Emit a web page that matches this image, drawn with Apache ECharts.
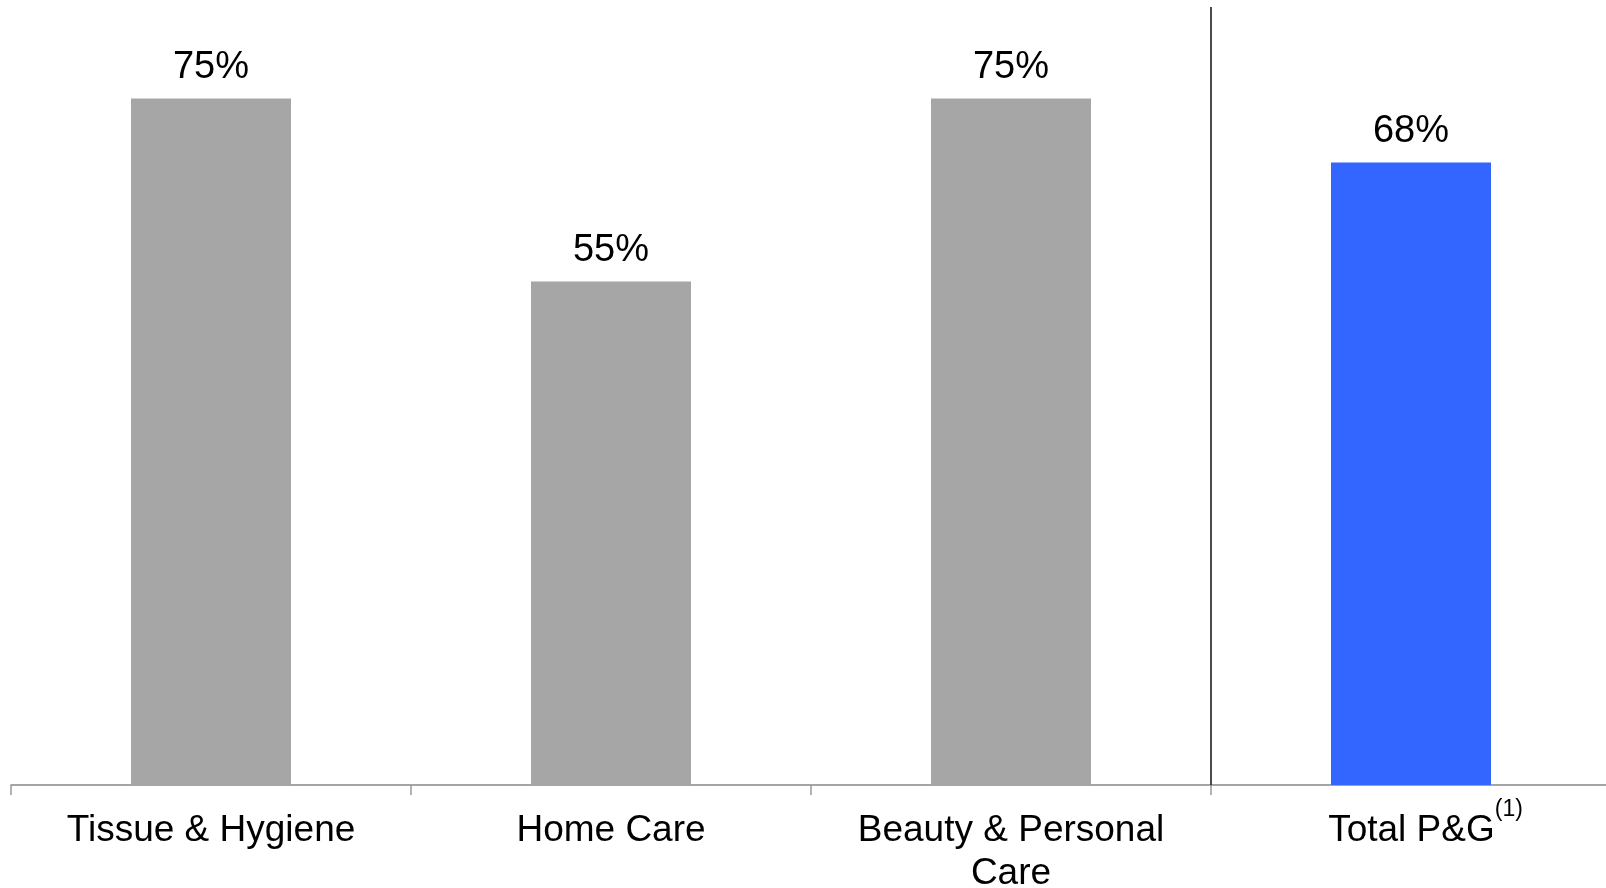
<!DOCTYPE html>
<html>
<head>
<meta charset="utf-8">
<script src="https://cdn.jsdelivr.net/npm/echarts@6/dist/echarts.min.js"></script>
<style>
html,body{margin:0;padding:0;background:#fff;}
#chart{width:1606px;height:888px;}
</style>
</head>
<body>
<div id="chart"></div>
<script>
const categories = ['Tissue & Hygiene', 'Home Care', 'Beauty & Personal\nCare', 'Total P&G'];
const values = [75, 55, 75, 68];
const barColors = ['#a6a6a6', '#a6a6a6', '#a6a6a6', '#3366ff'];
const footnote = '(1)';
// separator drawn at the boundary before the 4th category (band index 3), spanning 0..85
const separatorX = [3, 3];
const separatorY = [0, 85];

const FONT = "'Liberation Sans', Arial, sans-serif";
const chart = echarts.init(document.getElementById('chart'));

function catLabel(v) {
  const lines = v.split('\n');
  if (v === 'Total P&G') return '{pad|}{n|' + v + '}{sup|' + footnote + '}';
  return lines.map((l, i) => (i === 0 ? '{n|' : '{c|') + l + '}').join('\n');
}

chart.setOption({
  animation: false,
  backgroundColor: '#ffffff',
  grid: { left: 11, right: -5, top: 7, bottom: 103, containLabel: false, outerBoundsMode: 'none' },
  xAxis: [{
    type: 'category',
    data: categories,
    boundaryGap: true,
    axisLine: { show: true, lineStyle: { color: '#888888', width: 1.5 } },
    axisTick: { show: true, length: 10, lineStyle: { color: '#999999', width: 1.5 } },
    splitLine: { show: false },
    axisLabel: {
      interval: 0,
      margin: 13,
      formatter: catLabel,
      rich: {
        n: { fontSize: 37, lineHeight: 66, color: '#000', fontFamily: FONT },
        c: { fontSize: 37, lineHeight: 19, color: '#000', fontFamily: FONT },
        pad: { width: 29 },
        sup: { fontSize: 23, lineHeight: 23, verticalAlign: 'top', color: '#000', fontFamily: FONT }
      }
    }
  }, {
    type: 'value',
    min: 0,
    max: categories.length,
    show: false,
    splitLine: { show: false }
  }],
  yAxis: {
    type: 'value',
    min: 0,
    max: 85,
    show: false,
    splitLine: { show: false }
  },
  series: [{
    type: 'bar',
    barWidth: '40%',
    data: values.map((v, i) => ({ value: v, itemStyle: { color: barColors[i] } })),
    label: {
      show: true,
      position: 'top',
      distance: 12,
      formatter: '{c}%',
      fontSize: 38,
      color: '#000',
      fontFamily: FONT
    }
  }, {
    type: 'line',
    xAxisIndex: 1,
    silent: true,
    symbol: 'none',
    lineStyle: { color: '#111111', width: 1.5 },
    data: separatorX.map((x, i) => [x, separatorY[i]])
  }]
});
</script>
</body>
</html>
